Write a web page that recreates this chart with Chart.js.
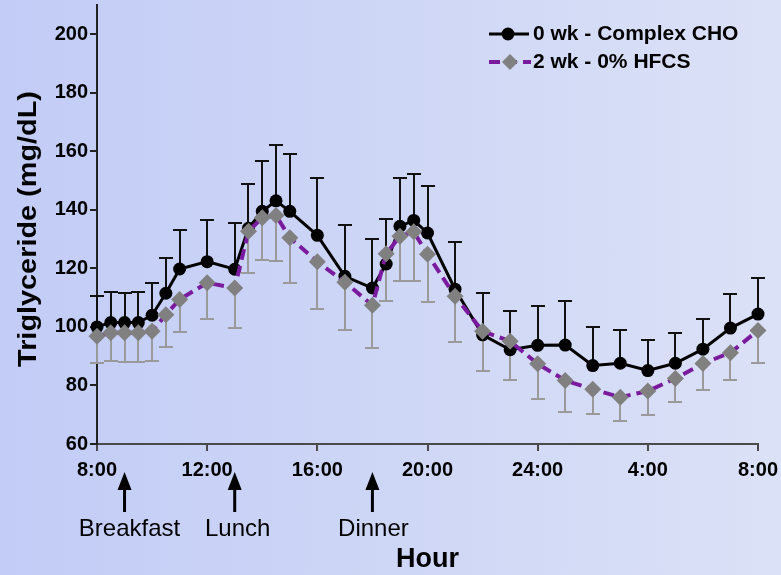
<!DOCTYPE html>
<html>
<head>
<meta charset="utf-8">
<script src="https://cdn.jsdelivr.net/npm/chart.js@4"></script>
<style>
  html, body { margin: 0; padding: 0; }
  body { width: 781px; height: 575px; background: linear-gradient(to right, #c2ccf6, #dbe1f6); }
  #wrap { width: 781px; height: 575px; }
</style>
</head>
<body>
<div id="wrap"><canvas id="tgChart" width="781" height="575"></canvas></div>
<script>
// hours after 8:00
const hours = [0, 0.5, 1, 1.5, 2, 2.5, 3, 4, 5, 5.5, 6, 6.5, 7, 8, 9, 10, 10.5, 11, 11.5, 12,
  13, 14, 15, 16, 17, 18, 19, 20, 21, 22, 23, 24];

const wk0 = [100, 101.5, 101.5, 101.5, 104, 111.5, 119.8, 122.3, 119.7, 133.7, 139.5, 143.1, 139.5, 131.3,
  117.3, 113.3, 121.5, 134.4, 136.4, 132.1, 112.9, 97.3, 92.2, 93.7, 93.8, 86.8, 87.6, 85.1, 87.6, 92.4, 99.6, 104.4];
const wk0Upper = [110.5, 112.1, 111.7, 111.8, 115.1, 123.7, 133.2, 136.6, 135.5, 149.0, 156.7, 162.2, 159.2, 150.8,
  135.0, 129.9, 137.0, 150.8, 152.1, 148.1, 129, 111.6, 105.6, 107.1, 108.8, 99.9, 98.9, 95.5, 97.9, 102.6, 111.4, 116.6];

const wk2 = [96.8, 98, 98, 98, 98.5, 104.2, 109.4, 115.1, 113.3, 132.7, 137.3, 138.1, 130.5, 122.3,
  115.3, 107.4, 125, 131, 132.5, 124.8, 110.5, 98.5, 95.1, 87.4, 81.7, 78.7, 76, 78.1, 82.4, 87.5, 91.2, 98.8];
const wk2Lower = [87.6, 88.2, 87.9, 87.9, 88.2, 93.1, 98.2, 102.6, 99.8, 118.4, 122.7, 122.4, 114.9, 106,
  98.9, 92.9, 108.8, 115.7, 115.7, 108.6, 94.8, 85.1, 82, 75.5, 71, 70.1, 67.8, 69.8, 74.3, 78.6, 82, 87.8];

const xTickLabels = ['8:00', '12:00', '16:00', '20:00', '24:00', '4:00', '8:00'];
const mealHours = [1, 5, 10];
const mealLabels = ['Breakfast', 'Lunch', 'Dinner'];
const seriesNames = ['0 wk - Complex CHO', '2 wk - 0% HFCS'];

const FONT = "'Liberation Sans', Arial, sans-serif";
const PURPLE = '#7a1a9e';

function pts(vals) {
  return hours.map((h, i) => ({ x: h, y: vals[i] }));
}

// error bars + arrows + labels + legend
const extras = {
  id: 'extras',
  beforeDatasetsDraw(chart) {
    const ctx = chart.ctx;
    const xs = chart.scales.x, ys = chart.scales.y;
    const bar = (vals, ends, color) => {
      ctx.save();
      ctx.strokeStyle = color;
      ctx.lineWidth = 2;
      hours.forEach((h, i) => {
        const px = Math.round(xs.getPixelForValue(h));
        const y0 = ys.getPixelForValue(vals[i]);
        const y1 = Math.round(ys.getPixelForValue(ends[i]));
        ctx.beginPath();
        ctx.moveTo(px, y0);
        ctx.lineTo(px, y1);
        ctx.moveTo(px - 7, y1);
        ctx.lineTo(px + 7, y1);
        ctx.stroke();
      });
      ctx.restore();
    };
    bar(wk2, wk2Lower, '#9a9a9a');
    bar(wk0, wk0Upper, '#111');
  },
  afterDraw(chart) {
    const ctx = chart.ctx;
    const xs = chart.scales.x;
    const area = chart.chartArea;
    const shift = [5, 3, 1];
    ctx.save();
    // meal arrows
    mealHours.forEach((h, i) => {
      const px = xs.getPixelForValue(h);
      ctx.strokeStyle = '#000';
      ctx.fillStyle = '#000';
      ctx.lineWidth = 3;
      ctx.beginPath();
      ctx.moveTo(px, 512);
      ctx.lineTo(px, 488);
      ctx.stroke();
      ctx.beginPath();
      ctx.moveTo(px, 472);
      ctx.lineTo(px - 7, 490);
      ctx.lineTo(px + 7, 490);
      ctx.closePath();
      ctx.fill();
      ctx.font = '24px ' + FONT;
      ctx.textAlign = 'center';
      ctx.textBaseline = 'middle';
      ctx.fillText(mealLabels[i], px + shift[i], 529);
    });
    // axis titles
    ctx.fillStyle = '#000';
    ctx.font = 'bold 27px ' + FONT;
    ctx.textAlign = 'center';
    ctx.textBaseline = 'middle';
    ctx.fillText('Hour', (area.left + area.right) / 2, 560);
    ctx.save();
    ctx.translate(29, 229);
    ctx.rotate(-Math.PI / 2);
    ctx.scale(1.11, 1);
    ctx.font = 'bold 26px ' + FONT;
    ctx.fillText('Triglyceride (mg/dL)', 0, 0);
    ctx.restore();
    // legend
    const lx = 489, rows = [34, 62];
    ctx.lineWidth = 3;
    ctx.strokeStyle = '#000';
    ctx.beginPath();
    ctx.moveTo(lx, rows[0]);
    ctx.lineTo(lx + 40, rows[0]);
    ctx.stroke();
    ctx.fillStyle = '#000';
    ctx.beginPath();
    ctx.arc(lx + 19, rows[0], 6.5, 0, Math.PI * 2);
    ctx.fill();
    ctx.strokeStyle = PURPLE;
    ctx.lineWidth = 4;
    ctx.setLineDash([11, 6]);
    ctx.beginPath();
    ctx.moveTo(lx, rows[1]);
    ctx.lineTo(lx + 42, rows[1]);
    ctx.stroke();
    ctx.setLineDash([]);
    ctx.fillStyle = '#808080';
    ctx.beginPath();
    ctx.moveTo(lx + 21, rows[1] - 8);
    ctx.lineTo(lx + 29, rows[1]);
    ctx.lineTo(lx + 21, rows[1] + 8);
    ctx.lineTo(lx + 13, rows[1]);
    ctx.closePath();
    ctx.fill();
    ctx.fillStyle = '#000';
    ctx.font = 'bold 21px ' + FONT;
    ctx.textAlign = 'left';
    ctx.fillText(seriesNames[0], lx + 44, rows[0]);
    ctx.fillText(seriesNames[1], lx + 44, rows[1]);
    ctx.restore();
  }
};

new Chart(document.getElementById('tgChart'), {
  type: 'line',
  data: {
    datasets: [{
      label: seriesNames[0],
      data: pts(wk0),
      borderColor: '#000',
      backgroundColor: '#000',
      borderWidth: 3,
      pointStyle: 'circle',
      pointRadius: 6.5,
      pointBorderWidth: 0,
      clip: false,
      order: 2
    }, {
      label: seriesNames[1],
      data: pts(wk2),
      borderColor: PURPLE,
      backgroundColor: '#808080',
      borderWidth: 4,
      borderDash: [11, 6],
      pointStyle: 'rectRot',
      pointRadius: 8.5,
      pointBorderWidth: 0,
      clip: false,
      order: 1
    }]
  },
  options: {
    responsive: false,
    animation: false,
    devicePixelRatio: 1,
    layout: { autoPadding: false, padding: { top: 5, right: 23, left: 0, bottom: 0 } },
    plugins: { legend: { display: false }, tooltip: { enabled: false } },
    scales: {
      x: {
        type: 'linear',
        min: 0,
        max: 24,
        afterFit: s => { s.height = 131; s.paddingLeft = 0; s.paddingRight = 0; },
        grid: { drawOnChartArea: false, tickLength: 7, color: '#4a4a4a', lineWidth: 2 },
        border: { color: '#4a4a4a', width: 2 },
        ticks: {
          stepSize: 4,
          padding: 7,
          color: '#000',
          font: { family: FONT, size: 20, weight: 'bold' },
          maxRotation: 0,
          autoSkip: false,
          callback: v => xTickLabels[v / 4]
        }
      },
      y: {
        min: 60,
        max: 210,
        afterFit: s => { s.width = 97; s.paddingTop = 0; s.paddingBottom = 0; },
        afterBuildTicks: s => { s.ticks = s.ticks.filter(t => t.value % 20 === 0); },
        grid: { drawOnChartArea: false, tickLength: 7, color: '#222', lineWidth: 2 },
        border: { color: '#222', width: 2 },
        ticks: {
          stepSize: 20,
          padding: 2,
          color: '#000',
          font: { family: FONT, size: 20, weight: 'bold' }
        }
      }
    }
  },
  plugins: [extras]
});
</script>
</body>
</html>
